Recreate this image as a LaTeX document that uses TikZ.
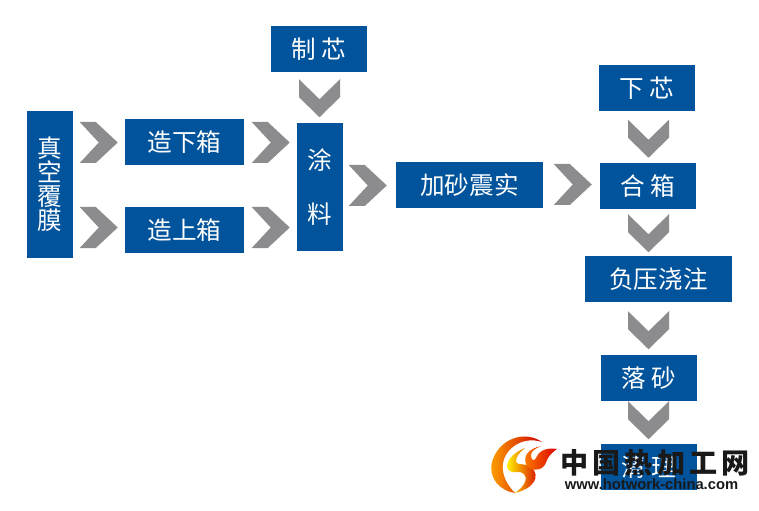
\documentclass[tikz,border=0pt]{standalone}
\usepackage{fontspec}
\setmainfont{Noto Sans CJK SC}
\newfontfamily\logofont[LetterSpace=14.5]{Noto Sans CJK SC}
\newfontfamily\urlfont{Liberation Sans}
\usetikzlibrary{calc}
\definecolor{boxblue}{RGB}{1,83,156}
\definecolor{chevgray}{RGB}{140,139,141}
\tikzset{
    blockbox/.style={fill=boxblue,text=white,inner sep=0pt,align=center,minimum height=1.38cm,font=\fontsize{21}{20.5}\selectfont},
    chevright/.pic={\fill[chevgray] (-19,-20.5)--(-3,-20.5)--(19,0)--(-3,20.5)--(-19,20.5)--(0,0)--cycle;},
    chevdown/.pic={\fill[chevgray] (-20.5,-19)--(0,1)--(20.5,-19)--(20.5,-1)--(0,19)--(-20.5,-1)--cycle;}
}
\begin{document}
\begin{tikzpicture}[x=0.03cm,y=-0.03cm]
    \useasboundingbox (0,0) rectangle (759,511);
    \node[blockbox,minimum width=1.38cm,minimum height=4.41cm] (zhenkong) at (50,184.5) {真\\空\\覆\\膜};
    \node[blockbox,minimum width=3.57cm] (zaoxia) at (184.5,142) {造下箱};
    \node[blockbox,minimum width=3.57cm] (zaoshang) at (184.5,230) {造上箱};
    \node[blockbox,minimum width=2.88cm] (zhixin) at (319,49) {制 芯};
    \node[blockbox,minimum width=1.38cm,minimum height=3.84cm] (tuliao) at (320,187) {涂\\[25.6pt]料};
    \node[blockbox,minimum width=4.41cm] (jiasha) at (469.5,185) {加砂震实};
    \node[blockbox,minimum width=2.88cm] (xiaxin) at (647,88) {下 芯};
    \node[blockbox,minimum width=2.88cm] (hexiang) at (648,186) {合 箱};
    \node[blockbox,minimum width=4.41cm] (fuya) at (658.5,279) {负压浇注};
    \node[blockbox,minimum width=2.88cm] (luosha) at (649,378) {落 砂};
    \node[blockbox,minimum width=2.88cm] (qingli) at (649,467) {清 理};
    % chevrons between the boxes
    \foreach \n/\dx/\dy in {zaoxia.west/-26/0.5,zaoshang.west/-26/-2.5,zaoxia.east/26.5/0.5,zaoshang.east/26.5/-2.5,jiasha.west/-28/0.5,hexiang.west/-27/-1.5}
    \pic at ($(\n)+(\dx,\dy)$) {chevright};
    \foreach \n/\dx/\dy in {zhixin.south/0.5/26,xiaxin.south/1.5/27.5,hexiang.south/0.5/24,fuya.south/-10/28,luosha.south/-0.5/19}
    \pic at ($(\n)+(\dx,\dy)$) {chevdown};
    % logo
    \shade[left color=orange!70!yellow,right color=red!80!black] (542,442) .. controls (525,430) and (499,438) .. (492,462) .. controls (488,478) and (500,491) .. (515,493) .. controls (508,486) and (501,475) .. (503,463) .. controls (506,447) and (524,436) .. (542,442);
    \shade[left color=yellow!90!orange,right color=red!85!black] (525,448) .. controls (515,452) and (508,458) .. (507,466) .. controls (508,474) and (515,472) .. (520,472) .. controls (527,474) and (530,482) .. (515,493) .. controls (535,488) and (540,476) .. (532,468) .. controls (525,462) and (518,466) .. (516,462) .. controls (516,456) and (520,452) .. (525,448);
    \shade[left color=orange,right color=red!85!black] (557,449) .. controls (545,447) and (538,452) .. (536,458) .. controls (534,462) and (531,460) .. (531,455) .. controls (531,452) and (534,449) .. (541,446) .. controls (528,449) and (523,456) .. (526,464) .. controls (530,472) and (538,470) .. (542,468) .. controls (548,464) and (544,458) .. (557,449);
    \node[inner sep=0pt,text=black!90,font=\logofont\bfseries\fontsize{24}{24}\selectfont] (logoname) at (655,462.5) {中国热加工网};
    \node[inner sep=0pt,text=black!90,font=\urlfont\bfseries\fontsize{12.6}{13}\selectfont] (logourl) at (651.5,484.5) {www.hotwork-china.com};
\end{tikzpicture}
\end{document}
